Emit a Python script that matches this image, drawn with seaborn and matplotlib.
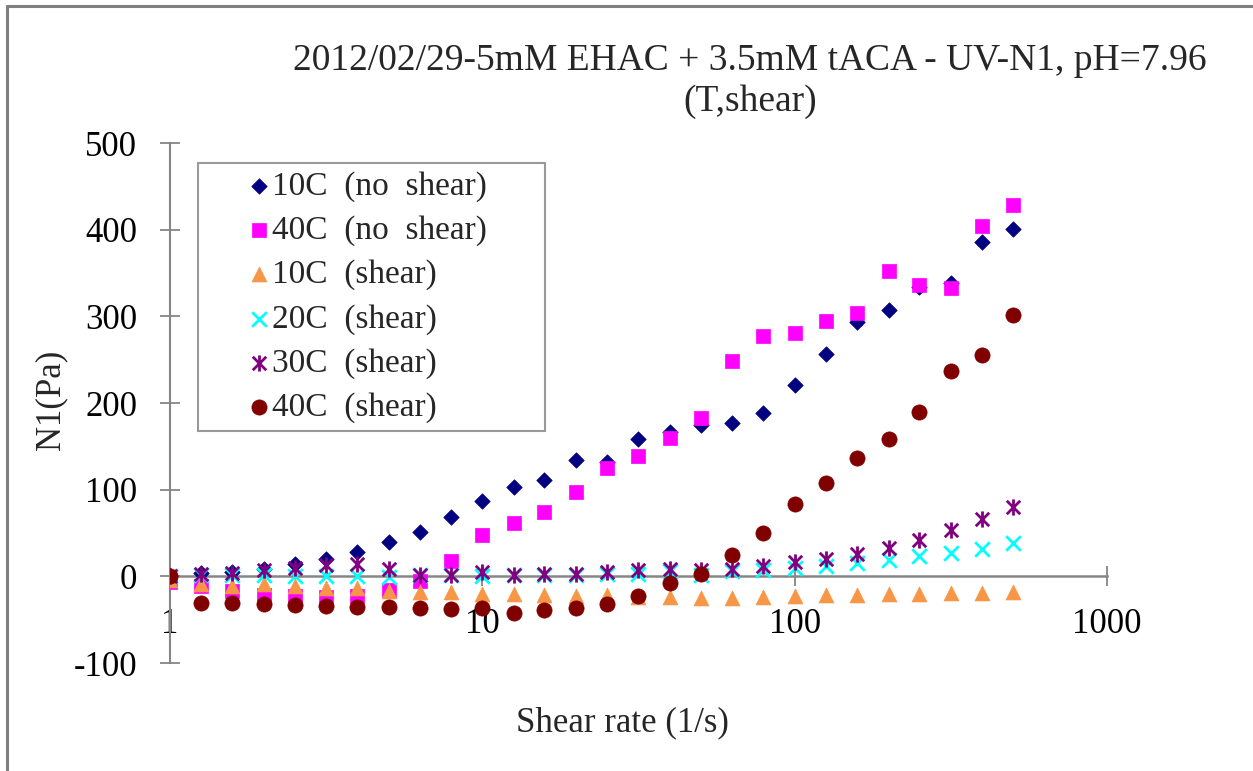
import numpy as np
import pandas as pd
import matplotlib
matplotlib.use("Agg")
import matplotlib.pyplot as plt
from matplotlib.path import Path
from matplotlib.lines import Line2D
from matplotlib.collections import PathCollection
from matplotlib.legend_handler import HandlerPathCollection
import seaborn as sns

# ---- data ----
shear_rate = [1, 1.26, 1.58, 2.0, 2.51, 3.16, 3.98, 5.01, 6.31, 7.94,
              10, 12.6, 15.8, 20.0, 25.1, 31.6, 39.8, 50.1, 63.1, 79.4,
              100, 126, 158, 200, 251, 316, 398, 501]

n1_10c_noshear = [0, 4, 5, 9, 14, 20, 28, 40, 51, 68, 87, 103, 111, 134, 132, 159,
                  166, 175, 177, 188, 221, 257, 293, 307, 334, 338, 386, 401]
n1_40c_noshear = [-6, -11, -17, -21, -23, -24, -23, -16, -5, 18, 48, 62, 74, 97, 125,
                  139, 160, 183, 249, 277, 281, 295, 304, 352, 336, 333, 404, 428]
n1_10c_shear = [-4, -9, -11, -9, -11, -13, -14, -17, -18, -18, -20, -20, -22, -23, -22,
                -24, -24, -25, -25, -24, -23, -22, -21, -20, -20, -19, -19, -18]
n1_20c_shear = [0, 1, 1, 1, 0, 0, 0, -1, 1, 1, 0, 2, 2, 2, 3, 3, 6, 1, 6, 7, 10, 12,
                15, 19, 23, 27, 32, 38]
n1_30c_shear = [0, 3, 4, 7, 10, 13, 14, 8, 1, 1, 5, 2, 3, 3, 5, 7, 9, 7, 8, 12, 16, 20,
                26, 33, 42, 54, 66, 80]
n1_40c_shear = [0, -31, -31, -32, -33, -34, -35, -35, -37, -38, -37, -42, -39, -36, -32,
                -23, -8, 3, 25, 50, 83, 108, 137, 159, 190, 237, 255, 302]

series_labels = ["10C  (no  shear)", "40C  (no  shear)", "10C  (shear)",
                 "20C  (shear)", "30C  (shear)", "40C  (shear)"]
y_ticks = [-100, 0, 100, 200, 300, 400, 500]
x_ticks = [1, 10, 100, 1000]
x_tick_labels = ["1", "10", "100", "1000"]
title_text = "2012/02/29-5mM EHAC + 3.5mM tACA - UV-N1, pH=7.96\n(T,shear)"

# ---- styling ----
sns.set_theme(style="white")
plt.rcParams["font.family"] = ["Liberation Serif", "DejaVu Serif"]

star = Path([(-1, -1), (1, 1), (-1, 1), (1, -1), (0, -1.2), (0, 1.2)],
            [Path.MOVETO, Path.LINETO, Path.MOVETO, Path.LINETO, Path.MOVETO, Path.LINETO])

styles = [
    dict(marker="D", color="#000080", s=62, edgecolor="#000080", linewidth=0.5),
    dict(marker="s", color="#FF00FF", s=115, edgecolor="#FF00FF", linewidth=0.5),
    dict(marker="^", color="#F79646", s=115, edgecolor="#F79646", linewidth=0.5),
    dict(marker="x", color="#00FFFF", s=110, linewidth=2.0),
    dict(marker=star, color="#800080", s=135, edgecolor="#800080", linewidth=2.0),
    dict(marker="o", color="#800000", s=120, edgecolor="#800000", linewidth=0.5),
]
all_series = [n1_10c_noshear, n1_40c_noshear, n1_10c_shear,
              n1_20c_shear, n1_30c_shear, n1_40c_shear]

fig = plt.figure(figsize=(12.53, 7.71), dpi=100)
ax = fig.add_axes([170 / 1253, 1 - 663 / 771, (1107 - 170) / 1253, (663 - 143) / 771])

for vals, lab, st in zip(all_series, series_labels, styles):
    df = pd.DataFrame({"x": shear_rate, "y": vals})
    sns.scatterplot(data=df, x="x", y="y", ax=ax, label=lab, zorder=3, **st)

ax.set_xscale("log")
ax.set_xlim(1, 1000)
ax.set_ylim(-100, 500)
ax.set_xticks(x_ticks)
ax.set_xticklabels(x_tick_labels)
ax.xaxis.set_minor_locator(matplotlib.ticker.NullLocator())
ax.set_yticks(y_ticks)
ax.set_yticklabels([str(v) for v in y_ticks])

axis_col = "#868686"
for side in ["top", "right"]:
    ax.spines[side].set_visible(False)
ax.spines["bottom"].set_position(("data", 0))
ax.spines["bottom"].set_color(axis_col)
ax.spines["left"].set_color(axis_col)
ax.spines["bottom"].set_linewidth(1.8)
ax.spines["left"].set_linewidth(1.5)
ax.spines["bottom"].set_zorder(2)

ax.tick_params(axis="both", which="major", direction="inout", length=15,
               width=1.3, color=axis_col, labelsize=25, labelcolor="black")
ax.tick_params(axis="y", pad=16)
ax.tick_params(axis="x", pad=15.5)
ax.tick_params(bottom=True, left=True)

ax.set_xlabel("Shear rate (1/s)", fontsize=25)
ax.set_ylabel("N1(Pa)", fontsize=25)
ax.xaxis.set_label_coords((622 - 170) / 937, (663 - 706) / 520)
ax.yaxis.set_label_coords((67 - 170) / 937, (663 - 400) / 520)

fig.text(750 / 1253, 1 - 43 / 771, title_text, ha="center", va="top",
         fontsize=27, linespacing=1.26)

leg_x0 = (198 - 170) / 937
leg_w = (545 - 198) / 937
leg_top = (663 - 163) / 520
leg = ax.legend(loc="upper left", bbox_to_anchor=(leg_x0, leg_top - 0.5, leg_w, 0.5),
                mode="expand", borderaxespad=0, scatterpoints=1, fontsize=24,
                frameon=True, fancybox=False, edgecolor="#808080",
                handlelength=1.85, handletextpad=0.12, labelspacing=0.40,
                borderpad=0.25,
                handler_map={PathCollection: HandlerPathCollection(xpad=1.3)})
leg.get_frame().set_linewidth(1.5)
leg.set_zorder(5)

# outer chart border (left and top edges visible)
fig.add_artist(Line2D([7 / 1253, 7 / 1253], [0, 1 - 6 / 771], transform=fig.transFigure,
                      color="#7f7f7f", linewidth=2.2))
fig.add_artist(Line2D([7 / 1253, 1.0], [1 - 6 / 771, 1 - 6 / 771], transform=fig.transFigure,
                      color="#7f7f7f", linewidth=2.2))

fig.savefig("out.png", dpi=100)
